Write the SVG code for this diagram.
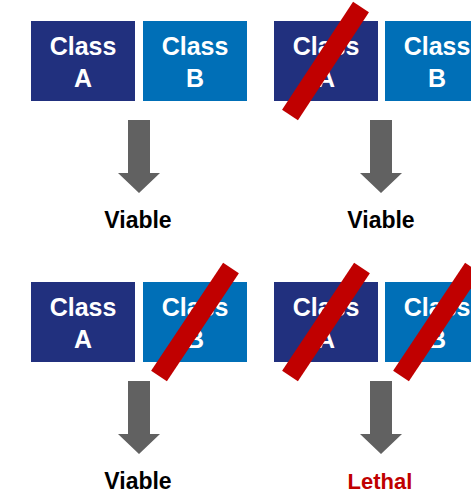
<svg xmlns="http://www.w3.org/2000/svg" width="471" height="497" viewBox="0 0 471 497">
<style>
.a{fill:#21307e}
.b{fill:#006fb7}
.t{font-family:"Liberation Sans",Arial,sans-serif;font-weight:bold;font-size:25px;fill:#fff;text-anchor:middle}
.l{font-family:"Liberation Sans",Arial,sans-serif;font-weight:bold;font-size:23px;fill:#000;text-anchor:middle}
.x{stroke:#c00000;stroke-width:19;fill:none}
.arr{fill:#616161}
</style>
<defs>
<path id="arrow" class="arr" d="M-11,0 H11 V53 H21 L0,73 L-21,53 H-11 Z"/>
</defs>
<rect width="471" height="497" fill="#fff"/>
<g id="p1a"><rect class="a" x="31" y="21" width="104" height="80"/><text class="t" x="83" y="55">Class</text><text class="t" x="83" y="87">A</text></g>
<g id="p1b"><rect class="b" x="143" y="21" width="104" height="80"/><text class="t" x="195" y="55">Class</text><text class="t" x="195" y="87">B</text></g>
<g id="p2a"><rect class="a" x="274" y="21" width="104" height="80"/><text class="t" x="326" y="55">Class</text><text class="t" x="326" y="87">A</text></g>
<g id="p2b"><rect class="b" x="385" y="21" width="104" height="80"/><text class="t" x="437" y="55">Class</text><text class="t" x="437" y="87">B</text></g>
<g id="p3a"><rect class="a" x="31" y="282" width="104" height="80"/><text class="t" x="83" y="316">Class</text><text class="t" x="83" y="348">A</text></g>
<g id="p3b"><rect class="b" x="143" y="282" width="104" height="80"/><text class="t" x="195" y="316">Class</text><text class="t" x="195" y="348">B</text></g>
<g id="p4a"><rect class="a" x="274" y="282" width="104" height="80"/><text class="t" x="326" y="316">Class</text><text class="t" x="326" y="348">A</text></g>
<g id="p4b"><rect class="b" x="385" y="282" width="104" height="80"/><text class="t" x="437" y="316">Class</text><text class="t" x="437" y="348">B</text></g>
<g id="slashes">
<line class="x" x1="361" y1="7" x2="290" y2="115"/>
<line class="x" x1="231" y1="268" x2="159" y2="376"/>
<line class="x" x1="362" y1="268" x2="290" y2="376"/>
<line class="x" x1="473" y1="268" x2="401" y2="376"/>
</g>
<g id="connectors">
<use href="#arrow" x="139" y="120"/>
<use href="#arrow" x="381" y="120"/>
<use href="#arrow" x="139" y="381"/>
<use href="#arrow" x="381" y="381"/>
</g>
<g id="r1"><text class="l" x="138" y="228">Viable</text></g>
<g id="r2"><text class="l" x="381" y="228">Viable</text></g>
<g id="r3"><text class="l" x="138" y="489">Viable</text></g>
<g id="r4"><text class="l" x="380" y="489" style="fill:#c00000;font-size:22px">Lethal</text></g>
</svg>
